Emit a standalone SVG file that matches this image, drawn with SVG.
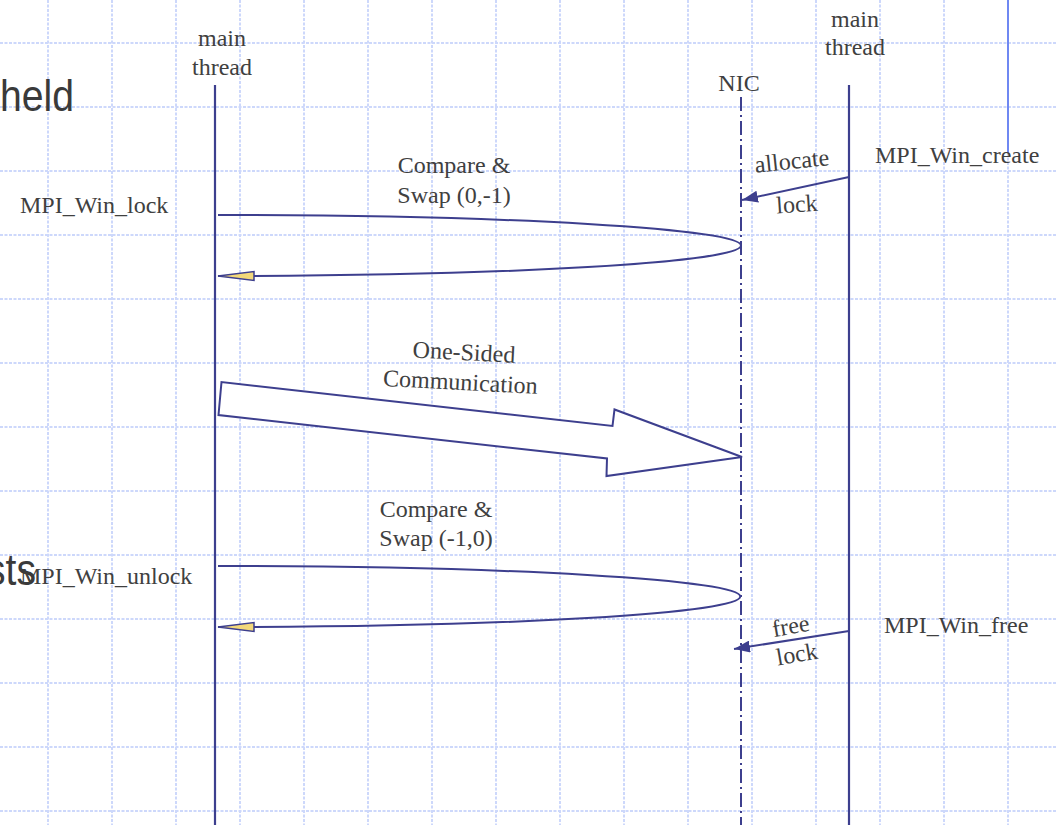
<svg xmlns="http://www.w3.org/2000/svg" width="1057" height="825" viewBox="0 0 1057 825">
<style>
.grid line{stroke:#cdd8fb;stroke-width:2;stroke-dasharray:3 1.5}
.lbl{font-family:"Liberation Serif","Times New Roman",serif;font-size:24px;fill:#404040}
.big{font-family:"Liberation Sans",Arial,sans-serif;font-size:44px;fill:#3a3a3a}
.life{stroke:#3d3f8e;stroke-width:2.2;fill:none}
.nic{stroke:#3d3f8e;stroke-width:2;fill:none;stroke-dasharray:14 4 2 4}
.conn{stroke:#3d3f8e;stroke-width:2;fill:none}
.head{fill:#f2d87a;stroke:#3d3f8e;stroke-width:1.5}
</style>
<defs>
<marker id="ah" markerUnits="userSpaceOnUse" markerWidth="16" markerHeight="12" viewBox="0 0 16 12" refX="16" refY="6" orient="auto">
<path d="M0,0 L16,6 L0,12 z" fill="#3d3f8e"/>
</marker>
</defs>
<rect width="1057" height="825" fill="#ffffff"/>
<g class="grid">
<line x1="48" y1="0" x2="48" y2="825"/><line x1="112" y1="0" x2="112" y2="825"/><line x1="176" y1="0" x2="176" y2="825"/><line x1="240" y1="0" x2="240" y2="825"/><line x1="304" y1="0" x2="304" y2="825"/><line x1="368" y1="0" x2="368" y2="825"/><line x1="432" y1="0" x2="432" y2="825"/><line x1="496" y1="0" x2="496" y2="825"/><line x1="560" y1="0" x2="560" y2="825"/><line x1="624" y1="0" x2="624" y2="825"/><line x1="688" y1="0" x2="688" y2="825"/><line x1="752" y1="0" x2="752" y2="825"/><line x1="816" y1="0" x2="816" y2="825"/><line x1="880" y1="0" x2="880" y2="825"/><line x1="944" y1="0" x2="944" y2="825"/><line x1="1008" y1="0" x2="1008" y2="825"/>
<line x1="0" y1="43" x2="1057" y2="43"/><line x1="0" y1="107" x2="1057" y2="107"/><line x1="0" y1="171" x2="1057" y2="171"/><line x1="0" y1="235" x2="1057" y2="235"/><line x1="0" y1="299" x2="1057" y2="299"/><line x1="0" y1="363" x2="1057" y2="363"/><line x1="0" y1="427" x2="1057" y2="427"/><line x1="0" y1="491" x2="1057" y2="491"/><line x1="0" y1="555" x2="1057" y2="555"/><line x1="0" y1="619" x2="1057" y2="619"/><line x1="0" y1="683" x2="1057" y2="683"/><line x1="0" y1="747" x2="1057" y2="747"/><line x1="0" y1="811" x2="1057" y2="811"/>
</g>
<line x1="1008" y1="0" x2="1008" y2="153" stroke="#6f88f2" stroke-width="2"/>
<text class="big" x="0" y="111" textLength="74" lengthAdjust="spacingAndGlyphs">held</text>
<g id="left-thread">
<line class="life" x1="215" y1="85" x2="215" y2="825"/>
<text class="lbl" x="222" y="46" text-anchor="middle">main</text>
<text class="lbl" x="222" y="75" text-anchor="middle">thread</text>
</g>
<g id="nic">
<line class="nic" x1="741" y1="97" x2="741" y2="825"/>
<text class="lbl" x="739" y="91" text-anchor="middle">NIC</text>
</g>
<g id="right-thread">
<line class="life" x1="849" y1="85" x2="849" y2="825"/>
<text class="lbl" x="855" y="27" text-anchor="middle">main</text>
<text class="lbl" x="855" y="55" text-anchor="middle">thread</text>
</g>
<g id="calls">
<text class="lbl" x="20" y="213">MPI_Win_lock</text>
<text class="lbl" x="20" y="584">MPI_Win_unlock</text>
<text class="lbl" x="875" y="163">MPI_Win_create</text>
<text class="lbl" x="884" y="633">MPI_Win_free</text>
</g>
<text class="big" x="-14" y="585" textLength="50" lengthAdjust="spacingAndGlyphs">sts</text>
<g id="connectors">
<path class="conn" d="M218,215 A523,30.5 0 0 1 218,276"/>
<polygon class="head" points="218,276 254,271.5 254,280.5"/>
<text class="lbl" x="454" y="173" text-anchor="middle">Compare &amp;</text>
<text class="lbl" x="454" y="203" text-anchor="middle">Swap (0,-1)</text>
<path class="conn" d="M218,566 A523,30.5 0 0 1 218,627"/>
<polygon class="head" points="218,627 254,622.5 254,631.5"/>
<text class="lbl" x="436" y="517" text-anchor="middle">Compare &amp;</text>
<text class="lbl" x="436" y="546" text-anchor="middle">Swap (-1,0)</text>
<polygon points="221.5,382 218.5,415 607,458.5 606.5,476 742,457 614.5,409.5 612.5,426" fill="#ffffff" stroke="#3d3f8e" stroke-width="2" stroke-linejoin="miter"/>
<g transform="rotate(3 462 372)">
<text class="lbl" x="463" y="360" text-anchor="middle">One-Sided</text>
<text class="lbl" x="461" y="390" text-anchor="middle">Communication</text>
</g>
<line class="conn" x1="849" y1="177" x2="742" y2="200" marker-end="url(#ah)"/>
<text class="lbl" x="792" y="169" text-anchor="middle" transform="rotate(-6 792 162)">allocate</text>
<text class="lbl" x="797" y="212" text-anchor="middle" transform="rotate(-4 797 206)">lock</text>
<line class="conn" x1="849" y1="631" x2="734" y2="649" marker-end="url(#ah)"/>
<text class="lbl" x="791" y="634" text-anchor="middle" transform="rotate(-10 791 628)">free</text>
<text class="lbl" x="797" y="662" text-anchor="middle" transform="rotate(-10 797 655)">lock</text>
</g>
</svg>
